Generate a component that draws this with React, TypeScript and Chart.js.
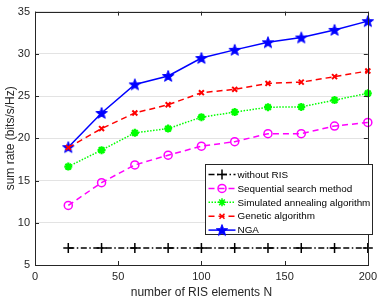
import React, { useEffect, useRef } from "react";
import { Chart, registerables } from "chart.js";
import { drawPoint } from "chart.js/helpers";

Chart.register(...registerables);

const elements = [20, 40, 60, 80, 100, 120, 140, 160, 180, 200];
const withoutRIS = [7, 7, 7, 7, 7, 7, 7, 7, 7, 7];
const sequential = [12.05, 14.75, 16.85, 18.0, 19.07, 19.6, 20.55, 20.55, 21.45, 21.88];
const annealing = [16.65, 18.6, 20.65, 21.15, 22.5, 23.1, 23.68, 23.72, 24.52, 25.33];
const genetic = [18.9, 21.15, 23.0, 23.97, 25.4, 25.8, 26.5, 26.65, 27.3, 27.97];
const nga = [18.95, 23.0, 26.38, 27.38, 29.5, 30.47, 31.37, 31.93, 32.83, 33.87];
const seriesLabels = [
  "without RIS",
  "Sequential search method",
  "Simulated annealing algorithm",
  "Genetic algorithm",
  "NGA",
];
const xTicks = [0, 50, 100, 150, 200];
const yTicks = [5, 10, 15, 20, 25, 30, 35];

const FONT = "'Liberation Sans', Arial, Helvetica, sans-serif";
const LEGEND_FONT = "'Liberation Sans Narrow', 'Arial Narrow', 'Liberation Sans', Arial, sans-serif";
const AXIS = "#262626";

function makePentagram(color: string, r: number): HTMLCanvasElement {
  const size = Math.ceil(r * 2 + 2);
  const c = document.createElement("canvas");
  c.width = size;
  c.height = size;
  const ctx = c.getContext("2d")!;
  const cx = size / 2;
  const cy = size / 2 + 0.5;
  const inner = r * 0.42;
  ctx.beginPath();
  for (let i = 0; i < 10; i++) {
    const rad = i % 2 === 0 ? r : inner;
    const a = -Math.PI / 2 + (i * Math.PI) / 5;
    const px = cx + rad * Math.cos(a);
    const py = cy + rad * Math.sin(a);
    if (i === 0) ctx.moveTo(px, py);
    else ctx.lineTo(px, py);
  }
  ctx.closePath();
  ctx.fillStyle = color;
  ctx.fill();
  ctx.strokeStyle = color;
  ctx.lineWidth = 1;
  ctx.stroke();
  return c;
}

const framePlugin = {
  id: "frameTicks",
  afterDatasetsDraw(chart: any) {
    const { ctx, chartArea } = chart;
    const { left, right, top, bottom } = chartArea;
    const xs = chart.scales.x;
    const ys = chart.scales.y;
    ctx.save();
    ctx.strokeStyle = AXIS;
    ctx.lineWidth = 1;
    const L = 4;
    ctx.beginPath();
    for (const v of xTicks) {
      const px = Math.round(xs.getPixelForValue(v)) + 0.5;
      ctx.moveTo(px, bottom);
      ctx.lineTo(px, bottom - L);
      ctx.moveTo(px, top);
      ctx.lineTo(px, top + L);
    }
    for (const v of yTicks) {
      const py = Math.round(ys.getPixelForValue(v)) + 0.5;
      ctx.moveTo(left, py);
      ctx.lineTo(left + L, py);
      ctx.moveTo(right, py);
      ctx.lineTo(right - L, py);
    }
    ctx.stroke();
    ctx.strokeRect(Math.round(left) + 0.5, Math.round(top) + 0.5, Math.round(right - left), Math.round(bottom - top));
    ctx.restore();
  },
  afterDraw(chart: any) {
    const { ctx } = chart;
    const bx = 205.5;
    const by = 164.5;
    const bw = 167;
    const bh = 70;
    ctx.save();
    ctx.fillStyle = "#ffffff";
    ctx.fillRect(bx, by, bw, bh);
    ctx.strokeStyle = AXIS;
    ctx.lineWidth = 1;
    ctx.strokeRect(bx, by, bw, bh);
    ctx.font = `11px ${LEGEND_FONT}`;
    const longest = Math.max(...seriesLabels.map((s) => ctx.measureText(s).width));
    const fs = Math.min(11, (11 * 133) / longest);
    const ds = chart.data.datasets;
    for (let i = 0; i < ds.length; i++) {
      const d = ds[i];
      const y = 174.5 + i * 13.9;
      ctx.save();
      ctx.strokeStyle = d.borderColor;
      ctx.lineWidth = d.borderWidth;
      ctx.setLineDash(d.borderDash || []);
      ctx.beginPath();
      ctx.moveTo(208.5, y);
      ctx.lineTo(235.5, y);
      ctx.stroke();
      ctx.setLineDash([]);
      ctx.strokeStyle = d.pointBorderColor;
      ctx.fillStyle = d.pointBackgroundColor;
      drawPoint(ctx, {
        pointStyle: d.pointStyle,
        rotation: 0,
        radius: d.pointRadius,
        borderWidth: d.pointBorderWidth,
      } as any, 222, y);
      ctx.restore();
      ctx.fillStyle = "#000000";
      ctx.font = `${fs.toFixed(2)}px ${LEGEND_FONT}`;
      ctx.textBaseline = "middle";
      ctx.textAlign = "left";
      ctx.fillText(seriesLabels[i], 237.5, y + 0.5);
    }
    ctx.restore();
  },
};

export default function App() {
  const ref = useRef<HTMLCanvasElement | null>(null);
  useEffect(() => {
    if (!ref.current) return;
    const star = makePentagram("#0000ff", 6);
    const mk = (vals: number[]) => vals.map((v, i) => ({ x: elements[i], y: v }));
    const chart = new Chart(ref.current, {
      type: "line",
      data: {
        datasets: [
          {
            label: seriesLabels[0],
            data: mk(withoutRIS),
            borderColor: "#000000",
            borderWidth: 1.5,
            borderDash: [6, 2.5, 1.5, 2.5],
            pointStyle: "cross",
            pointRadius: 5,
            pointBorderWidth: 1.5,
            pointBorderColor: "#000000",
            pointBackgroundColor: "#000000",
            clip: false,
          },
          {
            label: seriesLabels[1],
            data: mk(sequential),
            borderColor: "#ff00ff",
            borderWidth: 1.5,
            borderDash: [6, 4],
            pointStyle: "circle",
            pointRadius: 4,
            pointBorderWidth: 1.5,
            pointBorderColor: "#ff00ff",
            pointBackgroundColor: "rgba(0,0,0,0)",
            clip: false,
          },
          {
            label: seriesLabels[2],
            data: mk(annealing),
            borderColor: "#00ff00",
            borderWidth: 1.5,
            borderDash: [1.5, 1.5],
            pointStyle: "star",
            pointRadius: 4,
            pointBorderWidth: 2.2,
            pointBorderColor: "#00ff00",
            pointBackgroundColor: "#00ff00",
            clip: false,
          },
          {
            label: seriesLabels[3],
            data: mk(genetic),
            borderColor: "#ff0000",
            borderWidth: 1.5,
            borderDash: [6, 4],
            pointStyle: "crossRot",
            pointRadius: 3.5,
            pointBorderWidth: 2,
            pointBorderColor: "#ff0000",
            pointBackgroundColor: "#ff0000",
            clip: false,
          },
          {
            label: seriesLabels[4],
            data: mk(nga),
            borderColor: "#0000ff",
            borderWidth: 1.5,
            pointStyle: star,
            pointRadius: 6,
            pointBorderWidth: 1,
            pointBorderColor: "#0000ff",
            pointBackgroundColor: "#0000ff",
            clip: false,
          },
        ] as any,
      },
      options: {
        animation: false,
        responsive: false,
        events: [],
        layout: { padding: { top: 7, right: 9, left: 0, bottom: 0 } },
        plugins: { legend: { display: false }, tooltip: { enabled: false } },
        elements: { line: { tension: 0 } },
        scales: {
          x: {
            type: "linear",
            min: 0,
            max: 200,
            afterBuildTicks: (s: any) => {
              s.ticks = xTicks.map((v) => ({ value: v }));
            },
            afterFit: (s: any) => {
              s.height = 35;
            },
            grid: { display: false, drawTicks: false },
            border: { display: false },
            ticks: {
              color: AXIS,
              font: { family: FONT, size: 11 },
              padding: 5,
              maxRotation: 0,
            },
            title: {
              display: true,
              text: "number of RIS elements N",
              color: AXIS,
              font: { family: FONT, size: 12 },
              padding: { top: 0, bottom: 0.5 },
            },
          },
          y: {
            type: "linear",
            min: 5,
            max: 35,
            afterBuildTicks: (s: any) => {
              s.ticks = yTicks.map((v) => ({ value: v }));
            },
            afterFit: (s: any) => {
              s.width = 35;
            },
            grid: { display: true, drawTicks: false, color: "#e3e3e3", lineWidth: 1 },
            border: { display: false },
            ticks: {
              color: AXIS,
              font: { family: FONT, size: 11 },
              padding: 5,
            },
            title: {
              display: true,
              text: "sum rate (bits/s/Hz)",
              color: AXIS,
              font: { family: FONT, size: 12 },
              padding: { top: 3, bottom: 0 },
            },
          },
        },
      } as any,
      plugins: [framePlugin],
    });
    return () => chart.destroy();
  }, []);
  return (
    <div style={{ position: "fixed", left: 0, top: 0, width: 382, height: 300, background: "#ffffff" }}>
      <canvas ref={ref} width={382} height={300} style={{ display: "block" }} />
    </div>
  );
}
